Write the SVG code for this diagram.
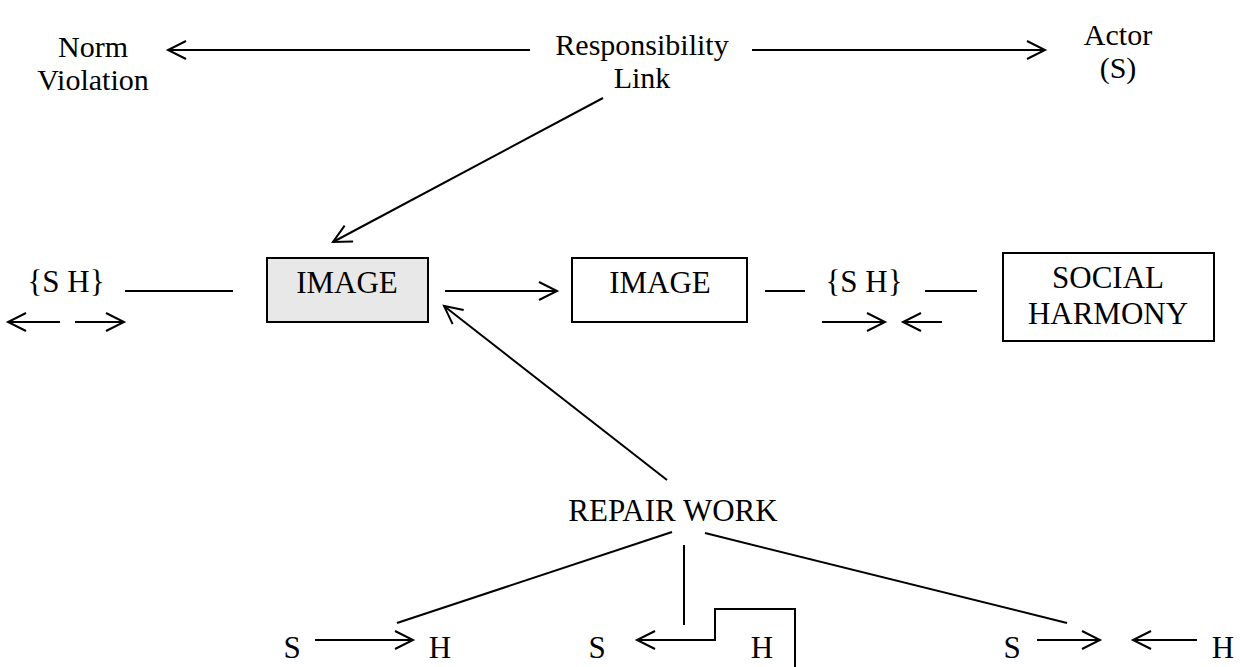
<svg xmlns="http://www.w3.org/2000/svg" width="1240" height="667" viewBox="0 0 1240 667">
<defs>
<marker id="ah" markerUnits="userSpaceOnUse" markerWidth="24" markerHeight="24" refX="21" refY="12" orient="auto">
<path d="M3,3 L21,12 L3,21" fill="none" stroke="#000" stroke-width="2"/>
</marker>
<style>
text{font-family:'Liberation Serif','DejaVu Serif',serif;font-size:31px;fill:#000;text-anchor:middle}
.top{font-size:30px}
.ln{stroke:#000;stroke-width:2;fill:none}
.ar{stroke:#000;stroke-width:2;fill:none;marker-end:url(#ah)}
.box{stroke:#000;stroke-width:2;fill:#fff}
</style>
</defs>
<rect width="1240" height="667" fill="#fff"/>
<g font-family="Liberation Serif, DejaVu Serif, serif">
<g id="norm-violation"><text class="top" x="93" y="57">Norm</text><text class="top" x="93" y="90">Violation</text></g>
<g id="responsibility-link"><text class="top" x="642" y="55">Responsibility</text><text class="top" x="642" y="88">Link</text></g>
<g id="actor"><text class="top" x="1118" y="45">Actor</text><text class="top" x="1118" y="78">(S)</text></g>
<g id="sh-left"><text x="66" y="292">{S H}</text></g>
<g id="image1"><rect x="267" y="258" width="161" height="64" fill="#e8e8e8" stroke="#000" stroke-width="2"/><text x="347" y="293">IMAGE</text></g>
<g id="image2"><rect class="box" x="572" y="258" width="175" height="64"/><text x="660" y="293">IMAGE</text></g>
<g id="sh-right"><text x="864" y="292">{S H}</text></g>
<g id="social-harmony"><rect class="box" x="1003" y="253" width="211" height="88"/><text x="1108" y="288">SOCIAL</text><text x="1108" y="324">HARMONY</text></g>
<g id="repair-work"><text x="673" y="521">REPAIR WORK</text></g>
<g id="bottom-left"><text x="292" y="658">S</text><text x="440" y="658">H</text></g>
<g id="bottom-mid"><text x="597" y="658">S</text><text x="762" y="658">H</text></g>
<g id="bottom-right"><text x="1012" y="658">S</text><text x="1223" y="658">H</text></g>
</g>
<g id="connectors">
<line class="ar" x1="530" y1="50" x2="168" y2="50"/>
<line class="ar" x1="752" y1="50" x2="1045" y2="50"/>
<line class="ar" x1="603" y1="98" x2="333" y2="242"/>
<line class="ln" x1="125" y1="291" x2="233" y2="291"/>
<line class="ar" x1="60" y1="322" x2="8" y2="322"/>
<line class="ar" x1="75" y1="322" x2="124" y2="322"/>
<line class="ar" x1="445" y1="291" x2="557" y2="291"/>
<line class="ln" x1="765" y1="291" x2="805" y2="291"/>
<line class="ln" x1="925" y1="291" x2="977" y2="291"/>
<line class="ar" x1="822" y1="322" x2="885" y2="322"/>
<line class="ar" x1="942" y1="322" x2="903" y2="322"/>
<line class="ar" x1="667" y1="480" x2="444" y2="306"/>
<line class="ln" x1="672" y1="532" x2="397" y2="623"/>
<line class="ln" x1="684" y1="545" x2="684" y2="625"/>
<line class="ln" x1="705" y1="533" x2="1067" y2="623"/>
<line class="ar" x1="315" y1="640" x2="413" y2="640"/>
<path class="ar" d="M795,667 L795,609 L715,609 L715,640 L637,640"/>
<line class="ar" x1="1037" y1="640" x2="1100" y2="640"/>
<line class="ar" x1="1197" y1="640" x2="1133" y2="640"/>
</g>
</svg>
